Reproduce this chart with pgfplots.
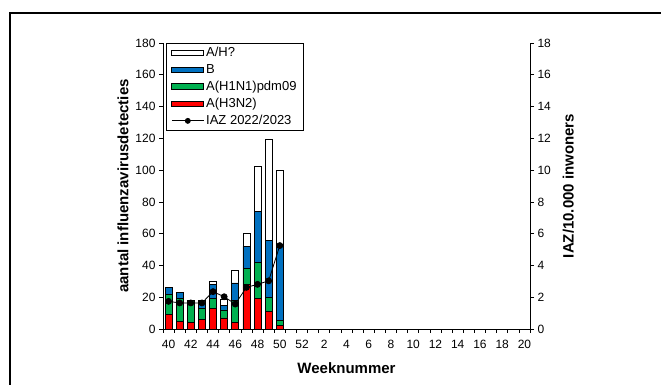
\documentclass[border=0pt]{standalone}
\usepackage{fontspec}
\setmainfont{Liberation Sans}
\usepackage{pgfplots}
\pgfplotsset{compat=1.18}
\usepackage{pgfplotstable}
\definecolor{cred}{RGB}{255,0,0}
\definecolor{cgreen}{RGB}{0,176,80}
\definecolor{cblue}{RGB}{0,112,192}

\pgfplotstableread{
x red green blue white iaz
0 9 13 4 0 1.74
1 5 14 4 0 1.64
2 4 14 0 0 1.64
3 6 7 3 2 1.64
4 13 6 9 2 2.35
5 7 5 3 3.5 2.03
6 4 14 11 8 1.57
7 28 10 14 8 2.62
8 19.5 22.5 32 28.5 2.81
9 11 9 35.5 64 3.03
10 2.5 3 47.5 47 5.25
}\datatable

\pgfplotsset{
  common/.style={
    at={(163pt,56pt)}, anchor=south west, scale only axis,
    width=367pt, height=286pt,
    xmin=-0.5, xmax=32.5,
    tick align=outside, major tick length=4pt, minor tick length=4pt,
    tick style={black, line width=0.7pt},
    axis line style={black, line width=0.8pt},
    tick label style={font=\fontsize{12}{14}\selectfont},
    label style={font=\fontsize{15}{18}\selectfont\bfseries},
    /pgf/number format/assume math mode=true,
  }
}

\begin{document}
\begin{tikzpicture}[x=1pt,y=1pt]
\useasboundingbox (0,0) rectangle (661,385);
\draw[line width=1.8pt] (10,-2) -- (10,372) -- (663,372);
\begin{axis}[common,
  ymin=0, ymax=180,
  ybar stacked, bar width=7pt,
  axis x line*=bottom, axis y line*=left,
  ytick={0,20,...,180},
  xtick={0,2,...,32},
  xticklabels={40,42,44,46,48,50,52,2,4,6,8,10,12,14,16,18,20},
  major x tick style={draw=none},
  minor xtick={-0.5,0.5,...,32.5},
  minor x tick style={draw=black, line width=0.7pt},
  xticklabel style={yshift=-4pt},
  xlabel={Weeknummer},
  xlabel style={yshift=-7pt},
  ylabel={aantal influenzavirusdetecties},
  legend style={at={(0,1)}, anchor=north west, xshift=3pt,
    draw=black, line width=0.8pt, font=\fontsize{13}{14}\selectfont,
    cells={anchor=west}, row sep=2.2pt, inner xsep=5pt, inner ysep=2pt},
  legend cell align=left,
]
\addlegendimage{legend image code/.code={\draw[fill=white,draw=black,line width=0.8pt] (0pt,-2.8pt) rectangle (32pt,2.8pt);}}
\addlegendentry{A/H?}
\addlegendimage{legend image code/.code={\draw[fill=cblue,draw=black,line width=0.8pt] (0pt,-2.8pt) rectangle (32pt,2.8pt);}}
\addlegendentry{B}
\addlegendimage{legend image code/.code={\draw[fill=cgreen,draw=black,line width=0.8pt] (0pt,-2.8pt) rectangle (32pt,2.8pt);}}
\addlegendentry{A(H1N1)pdm09}
\addlegendimage{legend image code/.code={\draw[fill=cred,draw=black,line width=0.8pt] (0pt,-2.8pt) rectangle (32pt,2.8pt);}}
\addlegendentry{A(H3N2)}
\addlegendimage{legend image code/.code={\draw[black,line width=0.8pt] (0pt,0pt) -- (32pt,0pt); \fill[black] (16pt,0pt) circle (2.5pt);}}
\addlegendentry{IAZ 2022/2023}
\addplot[fill=cred, draw=black, line width=0.7pt, forget plot] table[x=x,y=red]{\datatable};
\addplot[fill=cgreen, draw=black, line width=0.7pt, forget plot] table[x=x,y=green]{\datatable};
\addplot[fill=cblue, draw=black, line width=0.7pt, forget plot] table[x=x,y=blue]{\datatable};
\addplot[fill=white, draw=black, line width=0.7pt, forget plot] table[x=x,y=white]{\datatable};
\end{axis}
\begin{axis}[common,
  ymin=0, ymax=18,
  axis x line=none, axis y line*=right,
  ytick={0,2,...,18},
  ylabel={IAZ/10.000 inwoners},
  ylabel style={yshift=-5pt},
]
\addplot[black, line width=0.8pt, mark=*, mark size=3pt, mark options={fill=black}] table[x=x,y=iaz]{\datatable};
\end{axis}
\end{tikzpicture}
\end{document}
